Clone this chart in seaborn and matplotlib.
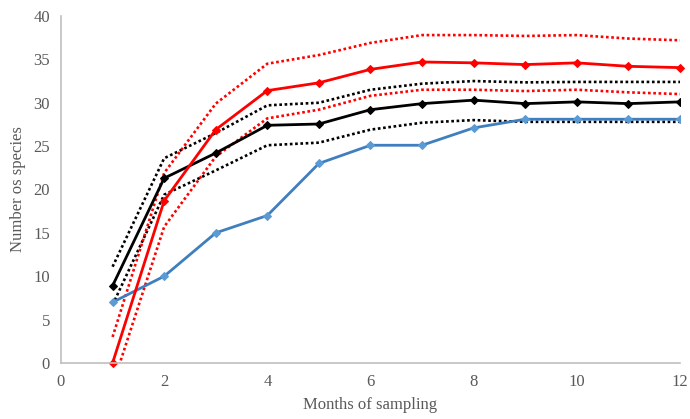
import pandas as pd
import matplotlib.pyplot as plt
import seaborn as sns

# Months of sampling
months = list(range(1, 13))

# Observed species richness
observed = [7, 10, 15, 17, 23, 25.1, 25.1, 27.1, 28.1, 28.1, 28.1, 28.1]

# Estimator 1 (black) with bounds
est1_mean = [8.9, 21.3, 24.2, 27.4, 27.55, 29.2, 29.9, 30.3, 29.9, 30.1, 29.9, 30.1]
est1_upper = [11.1, 23.6, 26.5, 29.7, 30.0, 31.5, 32.2, 32.5, 32.35, 32.4, 32.4, 32.4]
est1_lower = [6.7, 19.4, 22.2, 25.1, 25.4, 26.9, 27.7, 28.0, 27.8, 27.8, 27.8, 27.8]

# Estimator 2 (red) with bounds
est2_mean = [0, 18.7, 26.9, 31.4, 32.3, 33.85, 34.7, 34.6, 34.4, 34.6, 34.2, 34.05]
est2_upper = [3.0, 21.9, 29.9, 34.5, 35.5, 36.9, 37.8, 37.8, 37.7, 37.8, 37.4, 37.2]
est2_lower = [-2.6, 15.7, 23.8, 28.2, 29.2, 30.8, 31.5, 31.5, 31.35, 31.5, 31.2, 31.0]

sns.set_theme(style="white")
plt.rcParams["font.family"] = ["Liberation Serif", "DejaVu Serif"]

fig = plt.figure(figsize=(6.9, 4.19), dpi=100)
ax = fig.add_axes([0.0884, 0.1337, 0.8971, 0.8281])

# Dotted bounds
for vals, col in [(est1_upper, "black"), (est1_lower, "black"),
                  (est2_upper, "#ff0000"), (est2_lower, "#ff0000")]:
    sns.lineplot(x=months, y=vals, ax=ax, color=col, linewidth=1.9,
                 linestyle=(0, (1, 1)), dash_capstyle="butt")

# Solid series with diamond markers
sns.lineplot(x=months, y=observed, ax=ax, color="#3f7fbf", linewidth=2,
             marker="D", markersize=4, markerfacecolor="#5b9bd5",
             markeredgecolor="#5b9bd5")
sns.lineplot(x=months, y=est1_mean, ax=ax, color="black", linewidth=2,
             marker="D", markersize=4, markeredgecolor="black")
sns.lineplot(x=months, y=est2_mean, ax=ax, color="#ff0000", linewidth=2,
             marker="D", markersize=4, markeredgecolor="#ff0000")
ax.lines[-1].set_clip_on(False)

ax.set_xlim(0, 12)
ax.set_ylim(0, 40)
ax.set_xticks(range(0, 13, 2))
ax.set_yticks(range(0, 41, 5))

text_col = "#595959"
ax.tick_params(axis="both", length=0, labelsize=12, colors=text_col, pad=8)
ax.set_xlabel("Months of sampling", fontsize=12, color=text_col, labelpad=5)
ax.set_ylabel("Number os species", fontsize=12, color=text_col, labelpad=5)

for side in ["top", "right"]:
    ax.spines[side].set_visible(False)
for side in ["left", "bottom"]:
    ax.spines[side].set_color("#bfbfbf")
    ax.spines[side].set_linewidth(1.2)

plt.savefig("out.png", dpi=100)
